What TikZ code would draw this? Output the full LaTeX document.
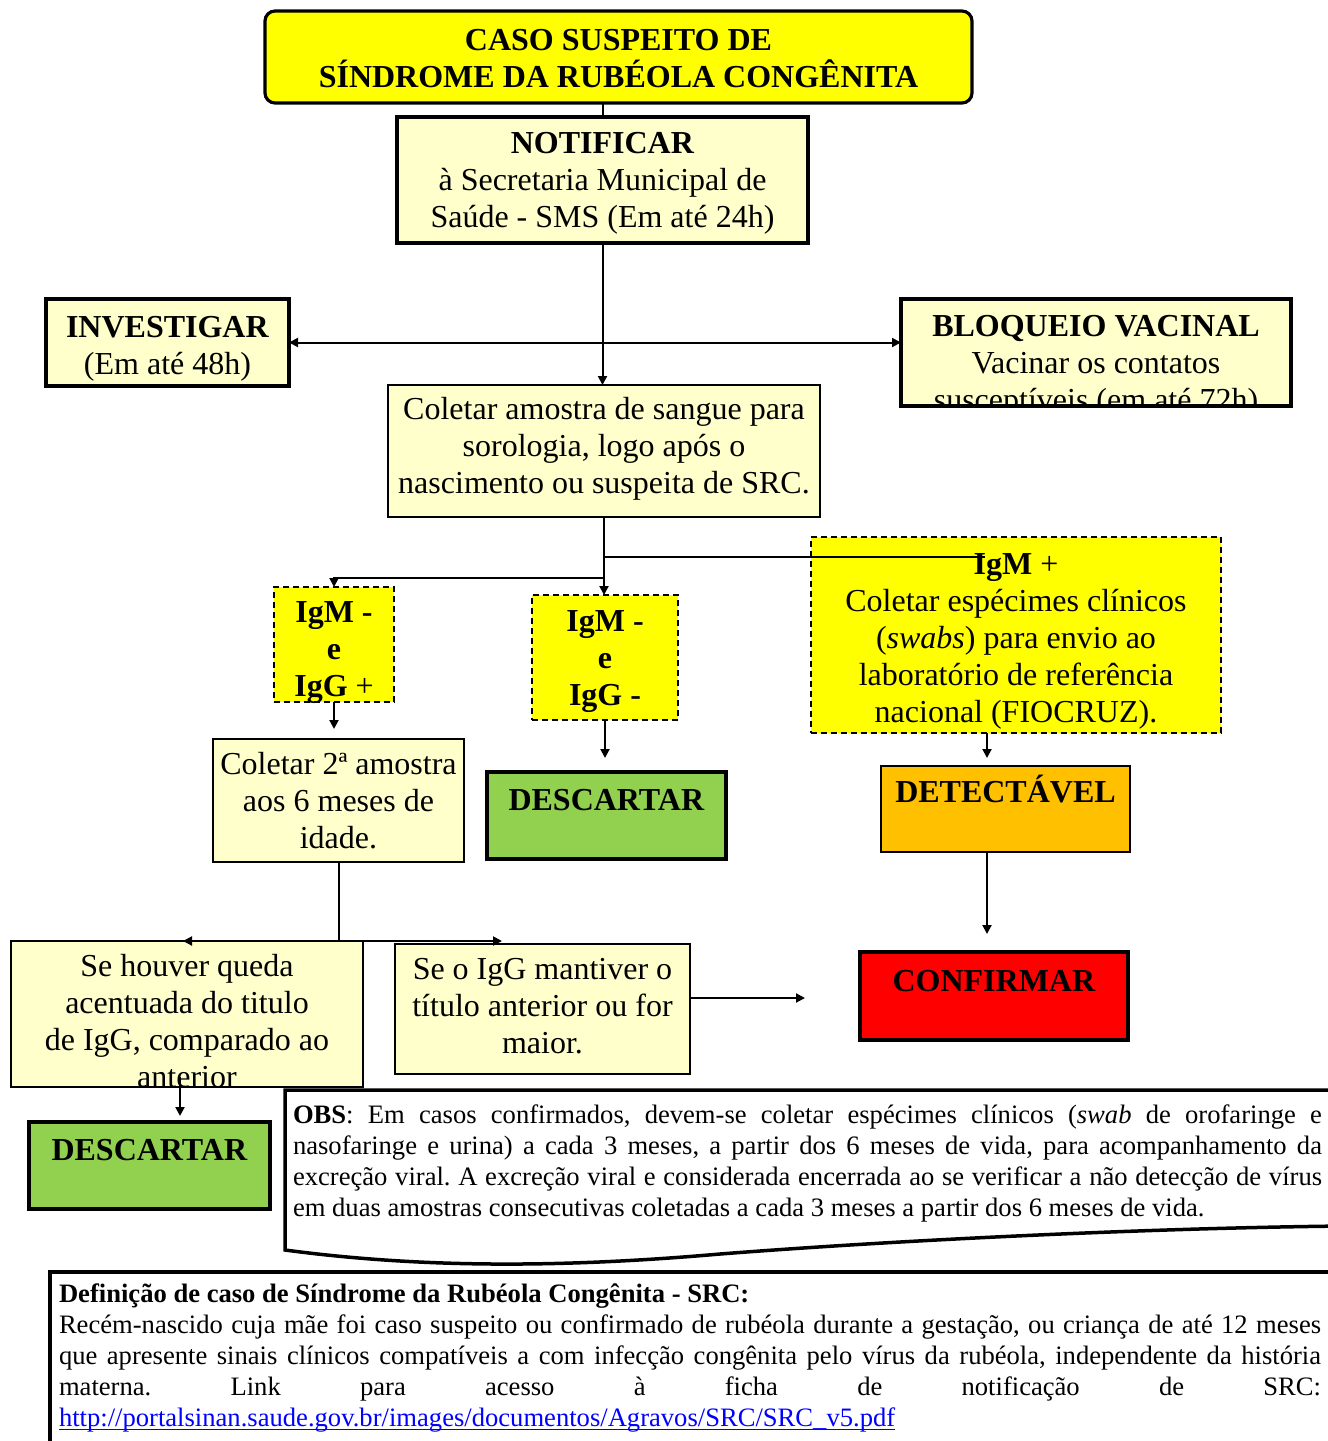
\documentclass[tikz,border=0pt]{standalone}
\usepackage{fontspec}
\setmainfont{Liberation Serif}
\usetikzlibrary{arrows.meta,calc}
\definecolor{ylw}{HTML}{FFFF00}
\definecolor{lyw}{HTML}{FFFFCC}
\definecolor{grn}{HTML}{92D050}
\definecolor{org}{HTML}{FFC000}
\definecolor{rd}{HTML}{FF0000}
\definecolor{lnk}{HTML}{0000FF}
\newcommand\ulnk[1]{\setbox0\hbox{#1}\rlap{\rule[-1.6pt]{\wd0}{0.7pt}}\box0}
\begin{document}
\frenchspacing
\hyphenpenalty=10000
\exhyphenpenalty=10000
\begin{tikzpicture}[x=0.5pt,y=-0.5pt,
  every node/.style={inner sep=1pt, outer sep=0pt, align=center, font=\fontsize{16}{18.5}\selectfont},
  thickbox/.style={draw, line width=1.6pt, fill=lyw, rectangle},
  thinbox/.style={draw, line width=0.8pt, fill=lyw, rectangle},
  dashbox/.style={draw, line width=0.9pt, dash pattern=on 3pt off 2pt, fill=ylw, rectangle},
  sz/.style 2 args={minimum width=#1pt, minimum height=#2pt},
  topt/.style={text height=11pt, text depth=#1pt},
  conn/.style={line width=1pt},
  arr/.style={conn, -{Triangle[length=4.5pt,width=4.5pt]}},
  darr/.style={conn, {Triangle[length=4.5pt,width=4.5pt]}-{Triangle[length=4.5pt,width=4.5pt]}},
  paratext/.style={inner sep=0pt, anchor=north west, font=\fontsize{13.3}{15.5}\selectfont},
]
\useasboundingbox (0,0) rectangle (1328,1441);
\clip (0,0) rectangle (1328,1441);

% boxes
\node[thickbox, fill=ylw, rounded corners=5pt, sz={353.5}{46},
  label={[name=title-t, yshift=-1pt]center:{\textbf{CASO SUSPEITO DE}\\\textbf{SÍNDROME DA RUBÉOLA CONGÊNITA}}}]
  (title) at (618.5,57) {};
\node[thickbox, sz={205.5}{63},
  label={[name=notif-t, yshift=-1.5pt]center:{\textbf{NOTIFICAR}\\à Secretaria Municipal de\\Saúde - SMS (Em até 24h)}}]
  (notif) at (602.5,180) {};
\node[thickbox, sz={121.5}{43.5},
  label={[name=invest-t, yshift=-3pt]center:{\textbf{INVESTIGAR}\\(Em até 48h)}}]
  (invest) at (167.5,342.5) {};
\node[thickbox, sz={195}{53.5}] (bloq) at (1096,352.5) {};
\begin{scope}
  \clip ([shift={(1pt,1pt)}]bloq.south west) rectangle ([shift={(-1pt,-1pt)}]bloq.north east);
  \node (bloqtxt) at (1096,366) {\textbf{BLOQUEIO VACINAL}\\Vacinar os contatos\\susceptíveis (em até 72h)};
\end{scope}
\node[thinbox, sz={216}{66},
  label={[name=coleta-t, yshift=1pt]center:{Coletar amostra de sangue para\\sorologia, logo após o\\nascimento ou suspeita de SRC.}}]
  (coleta) at (604,451) {};
\node[dashbox, sz={60}{57.5},
  label={[name=igmg-t, yshift=-4pt]center:{\textbf{IgM -}\\\textbf{e}\\\textbf{IgG} +}}]
  (igmg) at (334,644.5) {};
\node[dashbox, sz={73}{62.5},
  label={[name=igmn-t, yshift=-2pt]center:{\textbf{IgM -}\\\textbf{e}\\\textbf{IgG -}}}]
  (igmn) at (605,657.5) {};
\node[dashbox, sz={205}{98},
  label={[name=igmp-t, yshift=-3pt]center:{\textbf{IgM} +\\Coletar espécimes clínicos\\(\textit{swabs}) para envio ao\\laboratório de referência\\nacional (FIOCRUZ).}}]
  (igmp) at (1016,635) {};
\node[thinbox, sz={125.5}{61.5},
  label={[name=coleta2-t]center:{Coletar 2ª amostra\\aos 6 meses de\\idade.}}]
  (coleta2) at (338.5,800.5) {};
\node[thickbox, fill=grn, sz={119.5}{43.5}, topt=16] (desc1) at (606.5,815.5) {\textbf{DESCARTAR}};
\node[thinbox, fill=org, sz={124.5}{43}, topt=18] (detect) at (1005.5,809) {\textbf{DETECTÁVEL}};
\node[thickbox, fill=rd, sz={134}{44}, topt=16] (confirm) at (994,996) {\textbf{CONFIRMAR}};
\node[thinbox, sz={176}{73}] (sehouver) at (187,1014) {};
\begin{scope}
  \clip ([shift={(0.5pt,0.5pt)}]sehouver.south west) rectangle ([shift={(-0.5pt,-0.5pt)}]sehouver.north east);
  \node (sehtxt) at (187,1021.5) {Se houver queda\\acentuada do titulo\\de IgG, comparado ao\\anterior};
\end{scope}
\node[thinbox, sz={147.5}{65},
  label={[name=seigg-t, yshift=1.5pt]center:{Se o IgG mantiver o\\título anterior ou for\\maior.}}]
  (seigg) at (542.5,1009) {};
\node[thickbox, fill=grn, sz={120.5}{43.5}, topt=16] (desc2) at (149.5,1165.5) {\textbf{DESCARTAR}};

% OBS document shape
\draw[line width=1.75pt, fill=white] (1345,1090) -- (285,1090) -- (285,1250)
  .. controls (420,1268) and (560,1268) .. (720,1254)
  .. controls (900,1240) and (1150,1228) .. (1345,1226) -- cycle;
\node[paratext] (obstxt) at (293,1105)
  {\parbox[t]{514.5pt}{\textbf{OBS}: Em casos confirmados, devem-se coletar espécimes clínicos (\textit{swab} de orofaringe e\linebreak
   nasofaringe e urina) a cada 3 meses, a partir dos 6 meses de vida, para acompanhamento da\linebreak
   excreção viral. A excreção viral e considerada encerrada ao se verificar a não detecção de vírus\linebreak
   em duas amostras consecutivas coletadas a cada 3 meses a partir dos 6 meses de vida.}};

% definition box
\draw[line width=1.75pt, fill=white] (50,1272) rectangle (1350,1460);
\node[paratext] (deftxt) at (59,1284)
  {\parbox[t]{631pt}{\textbf{Definição de caso de Síndrome da Rubéola Congênita - SRC:}\newline
   Recém-nascido cuja mãe foi caso suspeito ou confirmado de rubéola durante a gestação, ou criança de até 12 meses\linebreak
   que apresente sinais clínicos compatíveis a com infecção congênita pelo vírus da rubéola, independente da história\linebreak
   materna. Link para acesso à ficha de notificação de SRC:\linebreak
   \textcolor{lnk}{\ulnk{http://portalsinan.saude.gov.br/images/documentos/Agravos/SRC/SRC\_v5.pdf}}}};

% connectors
\coordinate (br1) at (604,557);
\coordinate (br2) at (604,578);
\coordinate (igmpin) at (985,557);
\coordinate (v3) at (987,0);
\coordinate (br3) at (338,941);
\coordinate (tl) at (183,941);
\coordinate (tr) at (502,941);
\coordinate (fe) at (805,998);
\coordinate (v4) at (180,0);
\coordinate (s4) at (180,1077);

\draw[conn] (title.south -| notif.north) -- (notif.north);
\draw[arr] (notif.south) -- (notif.south |- coleta.north);
\draw[darr] (invest.east) -- (invest.east -| bloq.west);
\draw[arr] (coleta.south) -- (coleta.south |- igmn.north);
\draw[conn] (br1) -- (igmpin);
\draw[arr] (br2) -| (igmg.north);
\draw[arr, shorten >=5pt] (igmg.south) -- (igmg.south |- coleta2.north);
\draw[arr, shorten >=7pt] (igmn.south) -- (igmn.south |- desc1.north);
\draw[arr, shorten >=4pt] (igmp.south -| v3) -- (detect.north -| v3);
\draw[arr, shorten >=9pt] (detect.south -| v3) -- (confirm.north -| v3);
\draw[conn] (coleta2.south) -- (coleta2.south |- br3);
\draw[darr] (tl) -- (tr);
\draw[arr] (seigg.east |- fe) -- (fe);
\draw[arr, shorten >=3pt] (s4) -- (desc2.north -| v4);
\end{tikzpicture}
\end{document}
